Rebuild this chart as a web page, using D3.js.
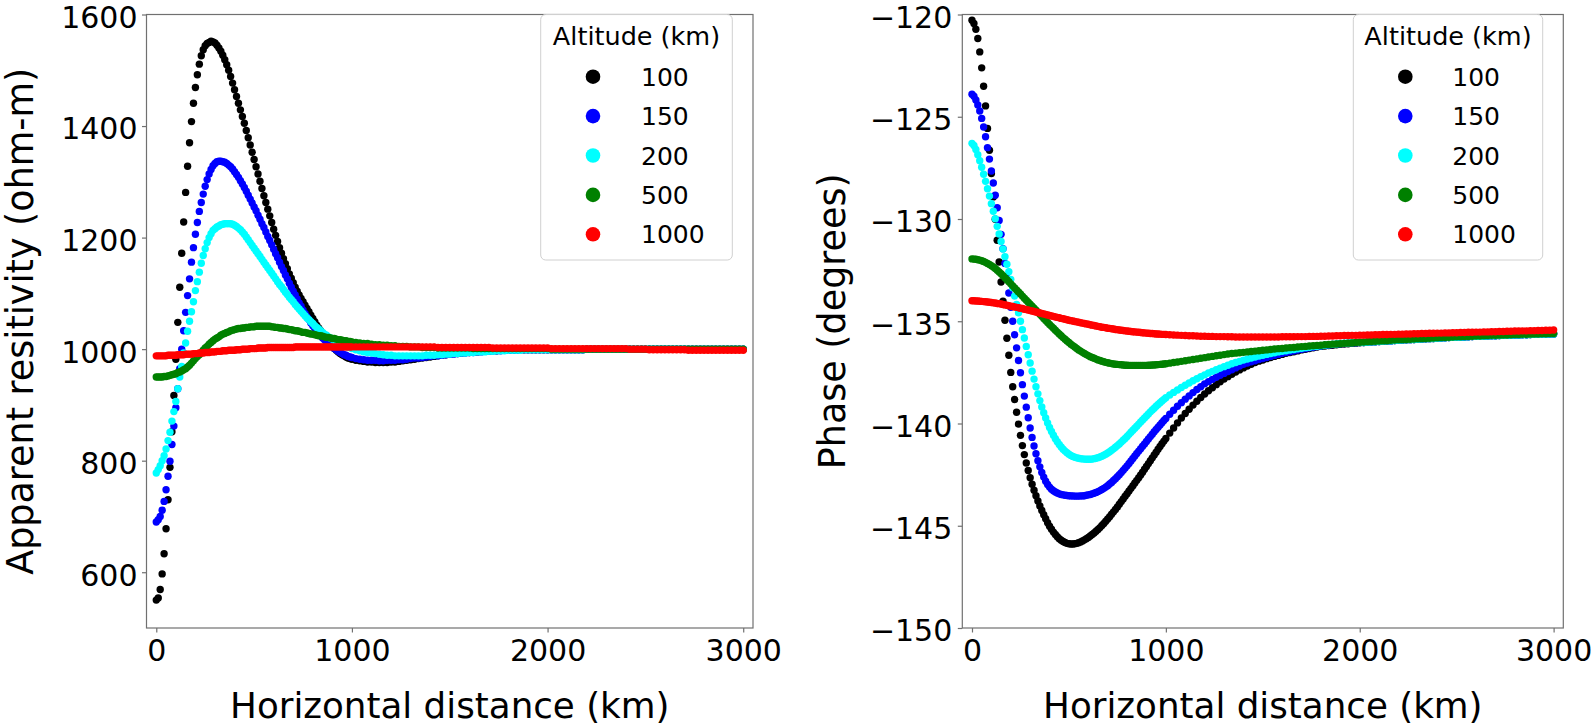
<!DOCTYPE html>
<html><head><meta charset="utf-8">
<script src="https://cdn.jsdelivr.net/npm/d3@7"></script>
<style>
html,body{margin:0;padding:0;background:#fff;}
svg{display:block;font-family:"DejaVu Sans","Liberation Sans",sans-serif;}
</style></head><body>
<svg id="chart" width="1595" height="728"></svg>
<script>
// ---------------- DATA ----------------
const distanceKm = [
0,10,20,30,40,50,60,70,80,90,
100,110,120,130,140,150,160,170,180,190,
200,210,220,230,240,250,260,270,280,290,
300,310,320,330,340,350,360,370,380,390,
400,410,420,430,440,450,460,470,480,490,
500,510,520,530,540,550,560,570,580,590,
600,610,620,630,640,650,660,670,680,690,
700,710,720,730,740,750,760,770,780,790,
800,810,820,830,840,850,860,870,880,890,
900,910,920,930,940,950,960,970,980,990,
1000,
1020,1040,1060,1080,1100,1120,1140,1160,1180,1200,
1220,1240,1260,1280,1300,1320,1340,1360,1380,1400,
1420,1440,1460,1480,1500,1520,1540,1560,1580,1600,
1620,1640,1660,1680,1700,1720,1740,1760,1780,1800,
1820,1840,1860,1880,1900,1920,1940,1960,1980,2000,
2020,2040,2060,2080,2100,2120,2140,2160,2180,2200,
2220,2240,2260,2280,2300,2320,2340,2360,2380,2400,
2420,2440,2460,2480,2500,2520,2540,2560,2580,2600,
2620,2640,2660,2680,2700,2720,2740,2760,2780,2800,
2820,2840,2860,2880,2900,2920,2940,2960,2980,3000];

const altitudes = ["100","150","200","500","1000"];
const seriesColors = ["#000000","#0000ff","#00ffff","#008000","#ff0000"];

// Apparent resistivity (ohm-m)
const rho100 = [
550,554,569,597,633,678,730,788,852,917,
982,1048,1111,1172,1228,1281,1328,1370,1408,1441,
1469,1492,1511,1526,1537,1544,1548,1550,1552,1551,
1549,1545,1540,1534,1527,1519,1510,1500,1489,1477,
1465,1453,1441,1429,1417,1405,1392,1379,1366,1353,
1340,1327,1314,1301,1288,1275,1263,1251,1239,1227,
1215,1204,1193,1182,1172,1162,1153,1144,1135,1127,
1119,1111,1104,1097,1091,1085,1079,1073,1067,1061,
1055,1049,1043,1038,1033,1028,1023,1018,1013,1009,
1005,1001,998,995,992,990,988,986,984,983,
982,
980,979,978,977,977,976,976,976,976,977,
977,978,979,980,981,982,983,984,985,986,
987,988,989,990,991,992,992,993,994,994,
995,995,996,996,997,997,997,998,998,998,
998,998,999,999,999,999,999,999,999,999,
999,999,999,999,999,999,999,999,999,1000,
1000,1000,1000,1000,1000,1000,1000,1000,1000,1000,
1000,1000,1000,1000,1000,1000,1000,1000,1000,1000,
1000,1000,1000,1000,1000,1000,1000,1000,1000,1000,
1000,1000,1000,1000,1000,1000,1000,1000,1000,1000];

const rho150 = [
690,694,700,711,727,748,772,799,829,862,
895,929,965,1000,1033,1066,1096,1126,1156,1182,
1206,1227,1247,1263,1278,1292,1304,1314,1322,1329,
1333,1336,1337,1337,1336,1335,1333,1330,1327,1323,
1318,1313,1308,1302,1296,1290,1283,1276,1269,1262,
1255,1248,1240,1233,1225,1218,1210,1202,1195,1187,
1179,1171,1164,1156,1148,1141,1133,1126,1118,1111,
1104,1097,1090,1083,1077,1070,1064,1058,1053,1047,
1042,1037,1033,1028,1024,1020,1017,1013,1010,1007,
1004,1001,999,996,994,992,990,989,987,986,
985,
983,982,981,980,980,980,979,979,980,980,
980,981,981,982,983,984,984,985,986,987,
988,988,989,990,991,991,992,993,993,994,
994,995,995,996,996,997,997,997,998,998,
998,998,999,999,999,999,999,999,999,999,
999,999,999,999,999,999,999,999,999,1000,
1000,1000,1000,1000,1000,1000,1000,1000,1000,1000,
1000,1000,1000,1000,1000,1000,1000,1000,1000,1000,
1000,1000,1000,1000,1000,1000,1000,1000,1000,1000,
1000,1000,1000,1000,1000,1000,1000,1000,1000,1000];

const rho200 = [
778,784,791,800,809,821,836,851,871,888,
906,929,950,969,993,1011,1032,1050,1067,1085,
1105,1121,1138,1154,1168,1180,1191,1200,1207,1213,
1216,1219,1221,1223,1224,1225,1225,1225,1225,1224,
1222,1220,1217,1214,1210,1206,1201,1196,1191,1186,
1181,1176,1171,1166,1161,1156,1151,1146,1141,1136,
1131,1126,1121,1116,1112,1107,1102,1098,1093,1089,
1085,1080,1076,1072,1068,1064,1060,1056,1053,1049,
1046,1042,1039,1036,1033,1030,1027,1025,1022,1020,
1018,1016,1014,1012,1010,1008,1007,1005,1004,1003,
1001,
999,997,995,994,993,992,991,990,989,989,
988,988,988,988,988,988,988,988,989,989,
989,990,990,991,991,992,992,993,993,994,
994,995,995,995,996,996,997,997,997,998,
998,998,998,999,999,999,999,999,999,999,
999,999,999,999,999,999,999,999,999,1000,
1000,1000,1000,1000,1000,1000,1000,1000,1000,1000,
1000,1000,1000,1000,1000,1000,1000,1000,1000,1000,
1000,1000,1000,1000,1000,1000,1000,1000,1000,1000,
1000,1000,1000,1000,1000,1000,1000,1000,1000,1000];

const rho500 = [
950,950,950,950,951,951,952,953,954,955,
956,958,959,961,963,965,968,971,975,979,
983,987,990,994,998,1002,1005,1009,1012,1015,
1018,1020,1022,1025,1027,1028,1030,1031,1033,1034,
1035,1036,1037,1037,1038,1038,1039,1039,1040,1040,
1040,1041,1041,1041,1041,1041,1041,1041,1041,1040,
1040,1039,1039,1038,1038,1037,1037,1036,1035,1035,
1034,1033,1033,1032,1031,1030,1030,1029,1028,1027,
1027,1026,1025,1024,1024,1023,1022,1021,1021,1020,
1019,1019,1018,1017,1017,1016,1015,1015,1014,1014,
1013,
1012,1011,1010,1010,1009,1008,1008,1007,1007,1006,
1006,1005,1005,1005,1004,1004,1004,1003,1003,1003,
1003,1002,1002,1002,1002,1002,1002,1002,1002,1002,
1001,1001,1001,1001,1001,1001,1001,1001,1001,1001,
1001,1001,1001,1001,1001,1001,1001,1001,1001,1001,
1000,1000,1000,1000,1000,1000,1000,1000,1000,1000,
1000,1000,1000,1000,1000,1000,1000,1000,1000,1000,
1000,1000,1000,1000,1000,1000,1000,1000,1000,1000,
1000,1000,1000,1000,1000,1000,1000,1000,1000,1000,
1000,1000,1000,1000,1000,1000,1000,1000,1000,1000];

const rho1000 = [
988,988,988,988,988,988,989,989,989,989,
989,990,990,990,990,991,991,991,991,992,
992,992,993,993,993,994,994,994,995,995,
995,996,996,996,997,997,997,998,998,998,
998,999,999,999,1000,1000,1000,1000,1001,1001,
1001,1001,1002,1002,1002,1002,1002,1003,1003,1003,
1003,1003,1003,1003,1003,1003,1003,1003,1003,1003,
1003,1004,1004,1004,1004,1004,1004,1004,1004,1004,
1004,1004,1004,1004,1004,1004,1004,1004,1004,1004,
1004,1004,1004,1004,1004,1004,1004,1004,1004,1004,
1004,
1004,1004,1004,1004,1004,1004,1004,1004,1004,1004,
1004,1004,1004,1004,1004,1004,1004,1004,1004,1004,
1004,1003,1003,1003,1003,1003,1003,1003,1003,1003,
1003,1003,1003,1003,1003,1002,1002,1002,1002,1002,
1002,1002,1002,1002,1002,1002,1002,1002,1002,1002,
1001,1001,1001,1001,1001,1001,1001,1001,1001,1001,
1001,1001,1001,1001,1001,1001,1001,1001,1001,1001,
1000,1000,1000,1000,1000,999,999,999,999,999,
999,999,999,999,999,998,998,998,998,998,
998,998,998,998,998,998,998,998,998,998];

// Phase (degrees)
const phi100 = [
-120.28,-120.44,-120.72,-121.17,-121.83,-122.61,-123.51,-124.47,-125.57,-126.64,
-127.78,-128.92,-130.01,-131.04,-132.10,-133.08,-134.02,-134.95,-135.83,-136.66,
-137.50,-138.20,-138.83,-139.45,-140.03,-140.58,-141.08,-141.52,-141.93,-142.30,
-142.65,-142.97,-143.26,-143.53,-143.79,-144.03,-144.25,-144.46,-144.66,-144.85,
-145.02,-145.17,-145.31,-145.43,-145.54,-145.63,-145.71,-145.77,-145.82,-145.86,
-145.88,-145.89,-145.89,-145.88,-145.86,-145.83,-145.79,-145.74,-145.69,-145.63,
-145.57,-145.50,-145.43,-145.35,-145.27,-145.18,-145.09,-144.99,-144.89,-144.78,
-144.67,-144.56,-144.44,-144.32,-144.20,-144.08,-143.95,-143.82,-143.69,-143.56,
-143.43,-143.30,-143.17,-143.04,-142.91,-142.78,-142.65,-142.52,-142.38,-142.24,
-142.10,-141.96,-141.82,-141.68,-141.54,-141.40,-141.26,-141.12,-140.99,-140.86,
-140.73,
-140.47,-140.22,-139.97,-139.73,-139.51,-139.30,-139.10,-138.91,-138.73,-138.56,
-138.40,-138.25,-138.10,-137.96,-137.83,-137.71,-137.59,-137.48,-137.38,-137.28,
-137.19,-137.10,-137.02,-136.95,-136.90,-136.83,-136.77,-136.72,-136.67,-136.62,
-136.57,-136.53,-136.49,-136.45,-136.40,-136.37,-136.33,-136.30,-136.26,-136.23,
-136.21,-136.19,-136.17,-136.15,-136.13,-136.11,-136.10,-136.08,-136.07,-136.05,
-136.04,-136.03,-136.01,-136.00,-135.99,-135.98,-135.97,-135.96,-135.94,-135.93,
-135.92,-135.91,-135.90,-135.89,-135.88,-135.87,-135.86,-135.85,-135.84,-135.83,
-135.82,-135.81,-135.80,-135.79,-135.78,-135.78,-135.77,-135.76,-135.75,-135.74,
-135.74,-135.73,-135.72,-135.71,-135.71,-135.70,-135.69,-135.69,-135.68,-135.67,
-135.67,-135.66,-135.66,-135.65,-135.64,-135.64,-135.63,-135.63,-135.62,-135.62];

const phi150 = [
-123.90,-124.00,-124.18,-124.42,-124.72,-125.08,-125.50,-125.98,-126.51,-127.07,
-127.65,-128.24,-128.84,-129.45,-130.07,-130.75,-131.45,-132.17,-132.90,-133.62,
-134.32,-135.00,-135.66,-136.30,-136.92,-137.52,-138.10,-138.66,-139.20,-139.72,
-140.22,-140.68,-141.10,-141.48,-141.82,-142.12,-142.39,-142.62,-142.82,-142.98,
-143.11,-143.21,-143.29,-143.35,-143.40,-143.44,-143.47,-143.49,-143.51,-143.52,
-143.53,-143.54,-143.54,-143.55,-143.55,-143.55,-143.54,-143.54,-143.53,-143.51,
-143.49,-143.47,-143.44,-143.41,-143.37,-143.33,-143.28,-143.23,-143.17,-143.11,
-143.04,-142.96,-142.88,-142.79,-142.70,-142.60,-142.50,-142.40,-142.29,-142.18,
-142.07,-141.95,-141.83,-141.71,-141.59,-141.47,-141.35,-141.23,-141.11,-141.00,
-140.88,-140.76,-140.64,-140.52,-140.40,-140.29,-140.18,-140.07,-139.96,-139.85,
-139.75,
-139.55,-139.35,-139.16,-138.98,-138.81,-138.65,-138.49,-138.34,-138.20,-138.06,
-137.95,-137.84,-137.74,-137.64,-137.55,-137.46,-137.37,-137.28,-137.19,-137.10,
-137.04,-136.98,-136.93,-136.87,-136.82,-136.77,-136.72,-136.67,-136.62,-136.57,
-136.53,-136.49,-136.45,-136.41,-136.37,-136.34,-136.30,-136.27,-136.24,-136.21,
-136.18,-136.16,-136.14,-136.12,-136.10,-136.09,-136.07,-136.06,-136.05,-136.04,
-136.04,-136.03,-136.01,-136.00,-135.99,-135.98,-135.97,-135.96,-135.94,-135.93,
-135.92,-135.91,-135.90,-135.89,-135.88,-135.87,-135.86,-135.85,-135.84,-135.83,
-135.82,-135.81,-135.80,-135.79,-135.78,-135.78,-135.77,-135.76,-135.75,-135.74,
-135.74,-135.73,-135.72,-135.71,-135.71,-135.70,-135.69,-135.69,-135.68,-135.67,
-135.67,-135.66,-135.66,-135.65,-135.64,-135.64,-135.63,-135.63,-135.62,-135.62];

const phi200 = [
-126.30,-126.40,-126.60,-126.86,-127.15,-127.47,-127.81,-128.16,-128.52,-128.88,
-129.25,-129.62,-129.99,-130.36,-130.73,-131.10,-131.47,-131.84,-132.21,-132.58,
-132.95,-133.36,-133.77,-134.18,-134.59,-135.00,-135.41,-135.82,-136.23,-136.64,
-137.04,-137.44,-137.83,-138.20,-138.55,-138.88,-139.19,-139.47,-139.73,-139.97,
-140.19,-140.39,-140.57,-140.74,-140.89,-141.03,-141.15,-141.26,-141.35,-141.43,
-141.50,-141.56,-141.61,-141.65,-141.68,-141.70,-141.72,-141.73,-141.74,-141.75,
-141.75,-141.75,-141.74,-141.72,-141.70,-141.67,-141.64,-141.60,-141.55,-141.50,
-141.44,-141.38,-141.31,-141.24,-141.16,-141.08,-141.00,-140.91,-140.82,-140.73,
-140.63,-140.53,-140.43,-140.33,-140.23,-140.13,-140.03,-139.93,-139.83,-139.73,
-139.63,-139.53,-139.43,-139.34,-139.25,-139.16,-139.07,-138.98,-138.90,-138.82,
-138.74,
-138.61,-138.48,-138.36,-138.24,-138.13,-138.02,-137.91,-137.81,-137.71,-137.62,
-137.53,-137.45,-137.37,-137.29,-137.22,-137.15,-137.08,-137.02,-136.96,-136.90,
-136.85,-136.80,-136.75,-136.70,-136.66,-136.62,-136.58,-136.54,-136.50,-136.47,
-136.44,-136.41,-136.38,-136.35,-136.32,-136.29,-136.27,-136.24,-136.22,-136.20,
-136.17,-136.15,-136.13,-136.11,-136.09,-136.07,-136.06,-136.05,-136.04,-136.04,
-136.04,-136.03,-136.01,-136.00,-135.99,-135.98,-135.97,-135.96,-135.94,-135.93,
-135.92,-135.91,-135.90,-135.89,-135.88,-135.87,-135.86,-135.85,-135.84,-135.83,
-135.82,-135.81,-135.80,-135.79,-135.78,-135.78,-135.77,-135.76,-135.75,-135.74,
-135.74,-135.73,-135.72,-135.71,-135.71,-135.70,-135.69,-135.69,-135.68,-135.67,
-135.67,-135.66,-135.66,-135.65,-135.64,-135.64,-135.63,-135.63,-135.62,-135.62];

const phi500 = [
-131.95,-131.96,-131.97,-131.99,-132.01,-132.04,-132.08,-132.12,-132.17,-132.22,
-132.28,-132.35,-132.42,-132.50,-132.59,-132.68,-132.77,-132.87,-132.97,-133.07,
-133.17,-133.27,-133.37,-133.47,-133.57,-133.67,-133.77,-133.87,-133.97,-134.07,
-134.17,-134.26,-134.36,-134.46,-134.56,-134.66,-134.76,-134.86,-134.96,-135.06,
-135.16,-135.25,-135.34,-135.44,-135.53,-135.62,-135.71,-135.80,-135.88,-135.96,
-136.04,-136.12,-136.19,-136.26,-136.33,-136.40,-136.46,-136.52,-136.58,-136.63,
-136.68,-136.73,-136.77,-136.81,-136.85,-136.89,-136.92,-136.95,-136.98,-137.01,
-137.03,-137.05,-137.07,-137.09,-137.10,-137.11,-137.12,-137.13,-137.14,-137.15,
-137.15,-137.16,-137.16,-137.16,-137.16,-137.16,-137.16,-137.16,-137.16,-137.16,
-137.16,-137.15,-137.15,-137.14,-137.14,-137.13,-137.12,-137.11,-137.10,-137.09,
-137.08,
-137.05,-137.02,-136.99,-136.96,-136.93,-136.90,-136.87,-136.84,-136.81,-136.78,
-136.75,-136.72,-136.69,-136.66,-136.63,-136.60,-136.58,-136.56,-136.54,-136.52,
-136.50,-136.48,-136.46,-136.44,-136.42,-136.40,-136.38,-136.36,-136.34,-136.33,
-136.31,-136.29,-136.28,-136.26,-136.24,-136.23,-136.21,-136.20,-136.18,-136.17,
-136.15,-136.14,-136.12,-136.11,-136.10,-136.08,-136.07,-136.06,-136.04,-136.03,
-136.02,-136.00,-135.99,-135.98,-135.97,-135.96,-135.95,-135.93,-135.92,-135.91,
-135.90,-135.89,-135.88,-135.87,-135.86,-135.85,-135.84,-135.83,-135.82,-135.81,
-135.80,-135.79,-135.78,-135.77,-135.76,-135.76,-135.75,-135.74,-135.73,-135.72,
-135.72,-135.71,-135.70,-135.69,-135.69,-135.68,-135.67,-135.67,-135.66,-135.65,
-135.65,-135.64,-135.64,-135.63,-135.62,-135.62,-135.61,-135.61,-135.60,-135.60];

const phi1000 = [
-134.00,-134.00,-134.01,-134.01,-134.02,-134.03,-134.04,-134.05,-134.06,-134.07,
-134.08,-134.10,-134.11,-134.13,-134.14,-134.16,-134.18,-134.20,-134.22,-134.24,
-134.26,-134.28,-134.30,-134.32,-134.34,-134.36,-134.38,-134.41,-134.43,-134.45,
-134.48,-134.50,-134.52,-134.55,-134.57,-134.60,-134.62,-134.64,-134.67,-134.69,
-134.72,-134.74,-134.76,-134.79,-134.81,-134.83,-134.86,-134.88,-134.90,-134.93,
-134.95,-134.97,-134.99,-135.01,-135.03,-135.05,-135.07,-135.09,-135.11,-135.13,
-135.15,-135.17,-135.19,-135.21,-135.23,-135.25,-135.27,-135.29,-135.30,-135.32,
-135.34,-135.35,-135.37,-135.38,-135.40,-135.41,-135.43,-135.44,-135.45,-135.47,
-135.48,-135.49,-135.50,-135.51,-135.52,-135.53,-135.54,-135.55,-135.56,-135.57,
-135.58,-135.59,-135.60,-135.60,-135.61,-135.62,-135.62,-135.63,-135.64,-135.64,
-135.65,
-135.66,-135.67,-135.68,-135.69,-135.70,-135.71,-135.71,-135.72,-135.73,-135.73,
-135.74,-135.74,-135.75,-135.75,-135.75,-135.76,-135.76,-135.77,-135.77,-135.77,
-135.77,-135.77,-135.77,-135.77,-135.77,-135.77,-135.77,-135.77,-135.77,-135.76,
-135.76,-135.76,-135.76,-135.75,-135.75,-135.75,-135.74,-135.74,-135.74,-135.73,
-135.73,-135.72,-135.72,-135.71,-135.71,-135.70,-135.70,-135.69,-135.69,-135.68,
-135.68,-135.67,-135.67,-135.66,-135.66,-135.65,-135.65,-135.64,-135.64,-135.63,
-135.63,-135.62,-135.62,-135.61,-135.61,-135.60,-135.60,-135.59,-135.59,-135.58,
-135.58,-135.57,-135.57,-135.56,-135.56,-135.55,-135.55,-135.54,-135.54,-135.53,
-135.53,-135.52,-135.52,-135.51,-135.51,-135.50,-135.50,-135.49,-135.49,-135.48,
-135.48,-135.47,-135.47,-135.46,-135.46,-135.45,-135.45,-135.44,-135.44,-135.43];

const xTickValues = [0, 1000, 2000, 3000];
const resistivityTicks = [600, 800, 1000, 1200, 1400, 1600];
const phaseTicks = [-150, -145, -140, -135, -130, -125, -120];

const legendTitle = "Altitude (km)";
const xLabel = "Horizontal distance (km)";
const resLabel = "Apparent resitivity (ohm-m)";
const phaseLabel = "Phase (degrees)";

// ---------------- DRAWING ----------------
const svg = d3.select("#chart");
const spineColor = "#707070";
const fmt = d => d < 0 ? "\u2212" + Math.abs(d) : String(d);

function drawPanel(p) {
  const x = d3.scaleLinear().domain([-50, 3050]).range([p.left, p.right]);
  const y = d3.scaleLinear().domain(p.yDomain).range([p.bottom, p.top]);
  const g = svg.append("g");

  p.series.forEach((vals, si) => {
    g.append("g").selectAll("circle")
      .data(distanceKm.map((d, i) => [d, vals[i]]).filter(d => d[1] !== undefined))
      .join("circle")
      .attr("cx", d => x(d[0]))
      .attr("cy", d => y(d[1]))
      .attr("r", 3.7)
      .attr("fill", seriesColors[si]);
  });

  g.append("rect")
    .attr("x", p.left).attr("y", p.top)
    .attr("width", p.right - p.left).attr("height", p.bottom - p.top)
    .attr("fill", "none").attr("stroke", spineColor).attr("stroke-width", 1.2);

  const xa = g.append("g").attr("transform", `translate(0,${p.bottom})`)
    .call(d3.axisBottom(x).tickValues(xTickValues).tickFormat(fmt).tickSize(4.5).tickPadding(7.5));
  const ya = g.append("g").attr("transform", `translate(${p.left},0)`)
    .call(d3.axisLeft(y).tickValues(p.yTicks).tickFormat(fmt).tickSize(4.5).tickPadding(p.yPad));
  [xa, ya].forEach(a => {
    a.select(".domain").remove();
    a.selectAll(".tick line").attr("stroke", spineColor).attr("stroke-width", 1.2);
    a.selectAll(".tick text").attr("fill", "#000")
      .style("font-family", '"DejaVu Sans", sans-serif').style("font-size", "30px");
  });
  ya.selectAll(".tick text").attr("dy", "0.43em");

  g.append("text")
    .attr("x", (p.left + p.right) / 2).attr("y", 718)
    .attr("text-anchor", "middle")
    .style("font-size", "35.7px").attr("fill", "#000")
    .text(xLabel);

  g.append("text")
    .attr("transform", `translate(${p.yLabelX},${(p.top + p.bottom) / 2}) rotate(-90)`)
    .attr("text-anchor", "middle")
    .style("font-size", "36.5px").attr("fill", "#000")
    .text(p.yLabel);

  // legend
  const L = p.legend;
  const lg = g.append("g");
  lg.append("rect")
    .attr("x", L.x).attr("y", L.y).attr("width", L.w).attr("height", L.h)
    .attr("rx", 5).attr("ry", 5)
    .attr("fill", "#ffffff").attr("fill-opacity", 0.8)
    .attr("stroke", "#d0d0d0").attr("stroke-width", 1);
  lg.append("text")
    .attr("x", L.x + L.w / 2).attr("y", 45)
    .attr("text-anchor", "middle")
    .style("font-size", "25.5px").attr("fill", "#000")
    .text(legendTitle);
  altitudes.forEach((a, i) => {
    const cy = 76.7 + i * 39.4;
    lg.append("circle").attr("cx", L.markerX).attr("cy", cy).attr("r", 7.3).attr("fill", seriesColors[i]);
    lg.append("text").attr("x", L.labelX).attr("y", cy + 9)
      .style("font-size", "25px").attr("fill", "#000").text(a);
  });
}

drawPanel({
  left: 146.5, right: 753, top: 14.5, bottom: 628,
  yDomain: [500, 1600], yTicks: resistivityTicks, yPad: 4.5,
  series: [rho100, rho150, rho200, rho500, rho1000],
  yLabel: resLabel, yLabelX: 32.5,
  legend: { x: 540.7, y: 14.5, w: 191.6, h: 245.5, markerX: 593, labelX: 641 }
});

drawPanel({
  left: 962.3, right: 1563.3, top: 14.5, bottom: 628,
  yDomain: [-150, -120], yTicks: phaseTicks, yPad: 5.5,
  series: [phi100, phi150, phi200, phi500, phi1000],
  yLabel: phaseLabel, yLabelX: 845,
  legend: { x: 1353.3, y: 14.5, w: 189.4, h: 245.5, markerX: 1405.3, labelX: 1452.3 }
});
</script>
</body></html>
